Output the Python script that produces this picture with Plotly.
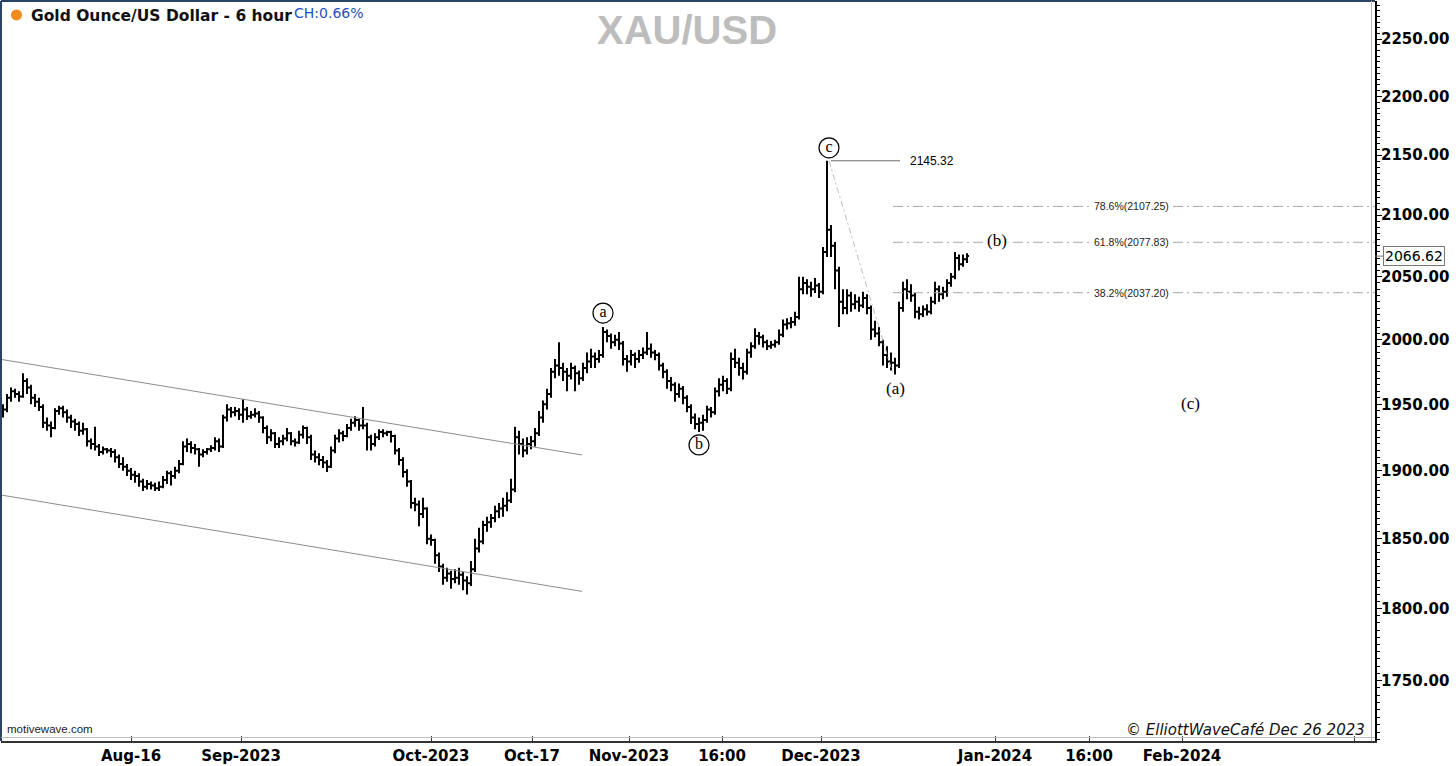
import math
import plotly.graph_objects as go

# ---------------- data (6-hour OHLC bars) ----------------
bar_open = [
    1944, 1946, 1955, 1960, 1958, 1956, 1968, 1963, 1955, 1952,
    1948, 1936, 1934, 1932, 1945, 1947, 1944, 1940, 1937, 1935,
    1930, 1931, 1922, 1920, 1918, 1914, 1916, 1915, 1914, 1910,
    1905, 1903, 1900, 1897, 1896, 1892, 1888, 1890, 1889, 1887,
    1888, 1893, 1898, 1896, 1900, 1905, 1918, 1920, 1917, 1916,
    1912, 1914, 1916, 1917, 1922, 1918, 1940, 1946, 1944, 1945,
    1942, 1946, 1941, 1942, 1943, 1940, 1932, 1925, 1928, 1920,
    1922, 1924, 1928, 1922, 1921, 1927, 1932, 1925, 1912, 1910,
    1908, 1906, 1903, 1915, 1924, 1928, 1926, 1932, 1936, 1938,
    1934, 1934, 1925, 1920, 1925, 1929, 1928, 1929, 1926, 1915,
    1908, 1899, 1892, 1876, 1875, 1868, 1872, 1850, 1849, 1838,
    1830, 1822, 1825, 1821, 1822, 1824, 1820, 1818, 1828, 1843,
    1848, 1860, 1862, 1865, 1870, 1872, 1874, 1878, 1886, 1925,
    1920, 1915, 1920, 1922, 1928, 1940, 1950, 1958, 1975, 1980,
    1978, 1975, 1972, 1978, 1974, 1970, 1978, 1983, 1987, 1985,
    1988, 2006, 2003, 1998, 2000, 1997, 1985, 1983, 1988, 1985,
    1988, 1990, 1993, 1990, 1988, 1980, 1975, 1968, 1965, 1958,
    1962, 1955, 1948, 1940, 1935, 1936, 1938, 1946, 1944, 1960,
    1965, 1968, 1962, 1985, 1982, 1978, 1975, 1990, 1995, 2003,
    2002, 1998, 1995, 1996, 1998, 2004, 2012, 2013, 2014, 2018,
    2040, 2045, 2042, 2040, 2043, 2038, 2070, 2088, 2075, 2055,
    2030, 2025, 2035, 2028, 2030, 2027, 2033, 2025, 2008, 2005,
    1998, 1988, 1983, 1982, 1980, 2025, 2040, 2038, 2035, 2022,
    2020, 2024, 2022, 2030, 2040, 2036, 2038, 2045, 2050, 2065,
    2060, 2064,
]
bar_high = [
    1950, 1958, 1963, 1962, 1960, 1974, 1970, 1965, 1958, 1955,
    1950, 1940, 1937, 1947, 1949, 1949, 1946, 1942, 1939, 1937,
    1936, 1932, 1924, 1933, 1920, 1918, 1917, 1917, 1916, 1912,
    1910, 1905, 1902, 1900, 1898, 1894, 1893, 1892, 1891, 1892,
    1896, 1900, 1900, 1903, 1908, 1922, 1924, 1922, 1920, 1917,
    1916, 1917, 1919, 1925, 1924, 1942, 1950, 1948, 1948, 1947,
    1954, 1948, 1945, 1947, 1945, 1941, 1934, 1931, 1929, 1925,
    1927, 1932, 1929, 1924, 1930, 1934, 1933, 1927, 1915, 1913,
    1911, 1908, 1918, 1927, 1931, 1930, 1935, 1939, 1941, 1939,
    1948, 1936, 1927, 1928, 1931, 1931, 1930, 1930, 1927, 1917,
    1910, 1901, 1893, 1880, 1878, 1880, 1873, 1853, 1850, 1840,
    1832, 1829, 1827, 1828, 1829, 1826, 1823, 1834, 1850, 1858,
    1863, 1866, 1868, 1874, 1876, 1880, 1884, 1894, 1933, 1930,
    1924, 1925, 1926, 1932, 1945, 1953, 1962, 1978, 1985, 1998,
    1982, 1978, 1982, 1980, 1976, 1982, 1990, 1993, 1990, 1992,
    2010, 2008, 2005, 2004, 2006, 1999, 1988, 1992, 1990, 1992,
    1994, 2006, 1997, 1992, 1990, 1982, 1977, 1971, 1967, 1966,
    1964, 1957, 1950, 1943, 1940, 1942, 1949, 1948, 1963, 1970,
    1972, 1970, 1990, 1993, 1986, 1982, 1993, 1998, 2009, 2006,
    2004, 2000, 1999, 2000, 2008, 2016, 2017, 2018, 2022, 2050,
    2050, 2048, 2046, 2049, 2045, 2074, 2145.32, 2092, 2078, 2058,
    2040, 2040, 2038, 2036, 2034, 2038, 2036, 2027, 2015, 2010,
    2000, 1995, 1990, 1986, 2030, 2046, 2048, 2044, 2037, 2026,
    2027, 2028, 2034, 2046, 2043, 2042, 2048, 2053, 2070, 2068,
    2068, 2069,
]
bar_low = [
    1940, 1944, 1952, 1955, 1952, 1955, 1958, 1950, 1948, 1945,
    1932, 1930, 1925, 1931, 1942, 1940, 1936, 1932, 1930, 1926,
    1927, 1918, 1916, 1915, 1911, 1912, 1913, 1910, 1906, 1902,
    1900, 1896, 1893, 1891, 1888, 1885, 1886, 1886, 1885, 1885,
    1887, 1890, 1889, 1894, 1898, 1904, 1914, 1913, 1912, 1903,
    1910, 1912, 1914, 1915, 1914, 1917, 1937, 1940, 1941, 1938,
    1936, 1938, 1939, 1940, 1936, 1928, 1920, 1922, 1917, 1917,
    1919, 1922, 1919, 1918, 1920, 1924, 1920, 1908, 1906, 1904,
    1902, 1899, 1902, 1913, 1921, 1922, 1925, 1930, 1933, 1930,
    1931, 1915, 1915, 1918, 1923, 1925, 1926, 1921, 1912, 1904,
    1895, 1888, 1872, 1870, 1859, 1865, 1846, 1845, 1832, 1826,
    1817, 1819, 1814, 1818, 1817, 1813, 1810, 1816, 1826, 1840,
    1846, 1855, 1858, 1862, 1865, 1866, 1870, 1876, 1884, 1912,
    1910, 1912, 1916, 1918, 1926, 1936, 1946, 1955, 1970, 1972,
    1968, 1960, 1969, 1960, 1965, 1968, 1974, 1978, 1978, 1982,
    1986, 1998, 1993, 1995, 1992, 1980, 1975, 1980, 1978, 1982,
    1985, 1988, 1986, 1984, 1976, 1970, 1962, 1960, 1952, 1955,
    1950, 1944, 1935, 1931, 1929, 1930, 1936, 1940, 1942, 1956,
    1960, 1958, 1960, 1978, 1972, 1969, 1973, 1986, 1993, 1996,
    1994, 1992, 1993, 1994, 1996, 2002, 2008, 2009, 2011, 2016,
    2036, 2036, 2034, 2037, 2033, 2036, 2066, 2066, 2040, 2010,
    2020, 2020, 2022, 2024, 2022, 2025, 2020, 2000, 2002, 1995,
    1980, 1978, 1976, 1973, 1978, 2022, 2032, 2030, 2017, 2016,
    2018, 2019, 2020, 2028, 2030, 2032, 2034, 2042, 2048, 2055,
    2058, 2061,
]
bar_close = [
    1946, 1955, 1960, 1958, 1956, 1968, 1963, 1955, 1952, 1948,
    1936, 1934, 1932, 1945, 1947, 1944, 1940, 1937, 1935, 1930,
    1931, 1922, 1920, 1918, 1914, 1916, 1915, 1914, 1910, 1905,
    1903, 1900, 1897, 1896, 1892, 1888, 1890, 1889, 1887, 1888,
    1893, 1898, 1896, 1900, 1905, 1918, 1920, 1917, 1916, 1912,
    1914, 1916, 1917, 1922, 1918, 1940, 1946, 1944, 1945, 1942,
    1946, 1941, 1942, 1943, 1940, 1932, 1925, 1928, 1920, 1922,
    1924, 1928, 1922, 1921, 1927, 1932, 1925, 1912, 1910, 1908,
    1906, 1903, 1915, 1924, 1928, 1926, 1932, 1936, 1938, 1934,
    1934, 1925, 1920, 1925, 1929, 1928, 1929, 1926, 1915, 1908,
    1899, 1892, 1876, 1875, 1868, 1872, 1850, 1849, 1838, 1830,
    1822, 1825, 1821, 1822, 1824, 1820, 1818, 1828, 1843, 1848,
    1860, 1862, 1865, 1870, 1872, 1874, 1878, 1886, 1925, 1920,
    1915, 1920, 1922, 1928, 1940, 1950, 1958, 1975, 1980, 1978,
    1975, 1972, 1978, 1974, 1970, 1978, 1983, 1987, 1985, 1988,
    2006, 2003, 1998, 2000, 1997, 1985, 1983, 1988, 1985, 1988,
    1990, 1993, 1990, 1988, 1980, 1975, 1968, 1965, 1958, 1962,
    1955, 1948, 1940, 1935, 1936, 1938, 1946, 1944, 1960, 1965,
    1968, 1962, 1985, 1982, 1978, 1975, 1990, 1995, 2003, 2002,
    1998, 1995, 1996, 1998, 2004, 2012, 2013, 2014, 2018, 2040,
    2045, 2042, 2040, 2043, 2038, 2070, 2088, 2075, 2055, 2030,
    2025, 2035, 2028, 2030, 2027, 2033, 2025, 2008, 2005, 1998,
    1988, 1983, 1982, 1980, 2025, 2040, 2038, 2035, 2022, 2020,
    2024, 2022, 2030, 2040, 2036, 2038, 2045, 2050, 2065, 2060,
    2064, 2066.62,
]
bar_index = list(range(len(bar_close)))

# x-axis ticks (bar-index positions) and their labels
x_tick_pos = [32, 59.5, 107, 132.25, 156.5, 179.75, 204.5, 248, 271.5, 294.75, 337.75]
x_tick_text = ["Aug-16", "Sep-2023", "Oct-2023", "Oct-17", "Nov-2023", "16:00",
               "Dec-2023", "Jan-2024", "16:00", "Feb-2024", ""]

# y-axis ticks
y_tick_vals = [1750, 1800, 1850, 1900, 1950, 2000, 2050, 2100, 2150, 2200, 2250]

# Fibonacci retracement of the (a) leg
fib_ratio_text = ["78.6%", "61.8%", "38.2%"]
fib_levels = [2107.25, 2077.83, 2037.20]
swing_high_x, swing_high = 206.5, 2145.32
swing_low_x, swing_low = 222.5, 1973.2

# descending channel (two trend lines)
channel_x = [-0.75, 144.75]
channel_upper = [1984.8, 1911.7]
channel_lower = [1882.1, 1812.2]

last_price = 2066.62

# ---------------- geometry / style ----------------
W, H = 1456, 766
M_L, M_R, M_T, M_B = 1, 81, 1, 22
X_RANGE = [-0.5, 343.0]
Y_RANGE = [3.232750, 3.358674]
PLOT_H = H - M_T - M_B
PX_PER_DEC = PLOT_H / (Y_RANGE[1] - Y_RANGE[0])


def shift(v, px):
    """move a price by px screen pixels on the log axis (positive = up)"""
    return v * 10 ** (px / PX_PER_DEC)


def px_x(px):
    return (px - M_L) / (W - M_L - M_R)


def px_y(py):
    return (H - M_B - py) / PLOT_H


fig = go.Figure()

# channel lines
for ys in (channel_upper, channel_lower):
    fig.add_trace(go.Scatter(x=channel_x, y=ys, mode="lines",
                             line=dict(color="#8c8c8c", width=1),
                             hoverinfo="skip", showlegend=False))

# fib levels (dash-dot) from swing low to right edge
for lvl in fib_levels:
    fig.add_trace(go.Scatter(x=[swing_low_x, X_RANGE[1]], y=[lvl, lvl], mode="lines",
                             line=dict(color="#a8a8a8", width=1, dash="10px,4px,2px,4px"),
                             hoverinfo="skip", showlegend=False))

# diagonal from swing high to swing low
fig.add_trace(go.Scatter(x=[swing_high_x, swing_low_x], y=[swing_high, swing_low], mode="lines",
                         line=dict(color="#bdbdbd", width=1, dash="6px,3px,2px,3px"),
                         hoverinfo="skip", showlegend=False))

# horizontal marker line for the high
fig.add_trace(go.Scatter(x=[swing_high_x + 0.5, swing_high_x + 17.75], y=[swing_high, swing_high],
                         mode="lines", line=dict(color="#6e6e6e", width=1.2),
                         hoverinfo="skip", showlegend=False))

# OHLC bars
fig.add_trace(go.Ohlc(x=bar_index, open=bar_open, high=bar_high, low=bar_low, close=bar_close,
                      increasing=dict(line=dict(color="black", width=2)),
                      decreasing=dict(line=dict(color="black", width=2)),
                      tickwidth=0.5, hoverinfo="skip", showlegend=False))

# circled wave labels
circ_x = [150, 174, 206.5]
circ_y = [shift(bar_high[150], 14), shift(bar_low[174], -13), shift(swing_high, 13)]
circ_t = ["a", "b", "c"]
fig.add_trace(go.Scatter(x=circ_x, y=circ_y, mode="markers+text", text=circ_t,
                         textposition="middle center",
                         textfont=dict(family="Liberation Serif", size=16, color="black"),
                         marker=dict(symbol="circle", size=20, color="white",
                                     line=dict(color="black", width=1.2)),
                         hoverinfo="skip", showlegend=False, cliponaxis=False))

annotations = []
# parenthesised wave labels
annotations.append(dict(x=223, y=math.log10(shift(bar_low[223], -14)), text="(a)",
                        showarrow=False, font=dict(family="Liberation Serif", size=17, color="black")))
annotations.append(dict(x=248.5, y=math.log10(shift(fib_levels[1], 2)), text="(b)",
                        showarrow=False, bgcolor="white", borderpad=1,
                        font=dict(family="Liberation Serif", size=17, color="black")))
annotations.append(dict(x=296.75, y=math.log10(1950.7), text="(c)",
                        showarrow=False, font=dict(family="Liberation Serif", size=17, color="black")))

# fib labels
for t, lvl in zip(fib_ratio_text, fib_levels):
    annotations.append(dict(x=282, y=math.log10(lvl), text=f"{t}({lvl:.2f})", showarrow=False,
                            bgcolor="white", borderpad=1,
                            font=dict(family="Liberation Sans", size=10.5, color="#222222")))

# high value label
annotations.append(dict(x=226.25, y=math.log10(swing_high), text=f"{swing_high:.2f}",
                        xanchor="left", showarrow=False,
                        font=dict(family="Liberation Sans", size=12, color="black")))

# last price box on the axis
annotations.append(dict(xref="paper", x=1.0, y=math.log10(last_price), text=f"{last_price:.2f}",
                        showarrow=True, ax=39, ay=0, arrowhead=0, arrowwidth=1, arrowcolor="#777777",
                        bgcolor="white", bordercolor="#777777", borderwidth=1, borderpad=1,
                        font=dict(family="DejaVu Sans", size=14, color="black")))

# header texts
annotations.append(dict(xref="paper", yref="paper", x=px_x(29), y=px_y(16), xanchor="left",
                        yanchor="middle", showarrow=False,
                        text="<b>Gold Ounce/US Dollar - 6 hour</b>",
                        font=dict(family="DejaVu Sans", size=15.5, color="#111111")))
annotations.append(dict(xref="paper", yref="paper", x=px_x(292), y=px_y(13), xanchor="left",
                        yanchor="middle", showarrow=False, text="CH:0.66%",
                        font=dict(family="DejaVu Sans", size=14, color="#1f4fc2")))
annotations.append(dict(xref="paper", yref="paper", x=px_x(687), y=px_y(30), xanchor="center",
                        yanchor="middle", showarrow=False, text="<b>XAU/USD</b>",
                        font=dict(family="Liberation Sans", size=40, color="#bdbdbd")))
annotations.append(dict(xref="paper", yref="paper", x=px_x(5), y=px_y(732), xanchor="left",
                        yanchor="middle", showarrow=False, text="motivewave.com",
                        font=dict(family="Liberation Sans", size=11.5, color="#222222")))
annotations.append(dict(xref="paper", yref="paper", x=px_x(1367), y=px_y(733), xanchor="right",
                        yanchor="middle", showarrow=False, text="<i>© ElliottWaveCafé Dec 26 2023</i>",
                        font=dict(family="DejaVu Sans", size=15, color="#111111")))

shapes = [
    # orange status dot
    dict(type="circle", xref="paper", yref="paper", x0=px_x(11), x1=px_x(22), y0=px_y(20.5), y1=px_y(9.5),
         fillcolor="#f28a1e", line=dict(color="#f28a1e", width=0)),
    # left and top frame
    dict(type="line", xref="paper", yref="paper", x0=0, x1=0, y0=0, y1=1,
         line=dict(color="#2b4466", width=2)),
    dict(type="line", xref="paper", yref="paper", x0=0, x1=1, y0=1, y1=1,
         line=dict(color="#2b4466", width=2)),
    # light inner lines near axes
    dict(type="line", xref="paper", yref="paper", x0=0, x1=1, y0=px_y(740.5), y1=px_y(740.5),
         line=dict(color="#bdbdbd", width=1)),
    dict(type="line", xref="paper", yref="paper", x0=px_x(1371.5), x1=px_x(1371.5), y0=0, y1=1,
         line=dict(color="#bdbdbd", width=1)),
]

minor_vals = list(range(1710, 2290, 5))

fig.update_layout(
    width=W, height=H,
    margin=dict(l=M_L, r=M_R, t=M_T, b=M_B),
    paper_bgcolor="white", plot_bgcolor="white",
    showlegend=False,
    annotations=annotations,
    shapes=shapes,
    xaxis=dict(range=X_RANGE, tickmode="array", tickvals=x_tick_pos, ticktext=x_tick_text,
               showgrid=False, zeroline=False, showline=True, linecolor="#333333", linewidth=2,
               ticks="inside", ticklen=5, tickcolor="#333333", tickwidth=1,
               tickfont=dict(family="DejaVu Sans", size=15, color="black", weight="bold"),
               rangeslider=dict(visible=False), fixedrange=True),
    yaxis=dict(type="log", range=Y_RANGE, side="right", tickmode="array",
               tickvals=y_tick_vals, ticktext=[f"{v:.2f}" for v in y_tick_vals],
               showgrid=False, zeroline=False, showline=True, linecolor="black", linewidth=2,
               ticks="outside", ticklen=5, tickcolor="black", tickwidth=1,
               ticklabelstandoff=-4,
               minor=dict(tickmode="array", tickvals=minor_vals, ticks="outside", ticklen=3,
                          tickcolor="black", tickwidth=1, showgrid=False),
               tickfont=dict(family="DejaVu Sans", size=15, color="black", weight="bold"),
               fixedrange=True),
)

fig.write_html("out.html", config={"displayModeBar": False},
               post_script="document.body.style.margin='0';")
